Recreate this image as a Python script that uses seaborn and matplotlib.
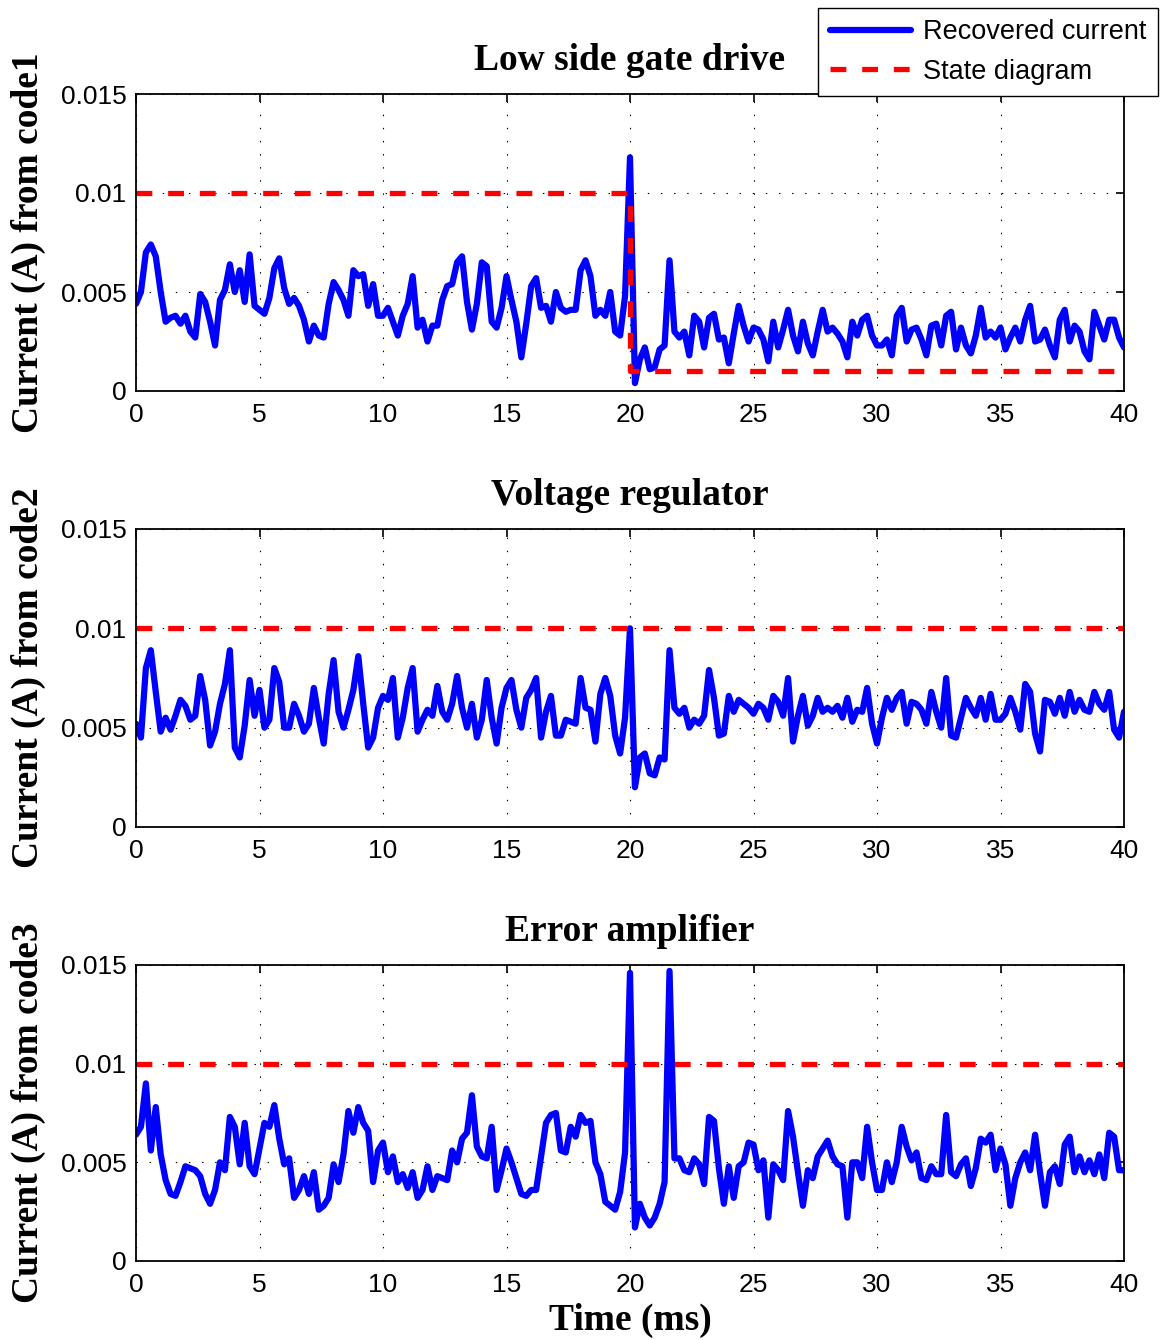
import numpy as np
import pandas as pd
import matplotlib
matplotlib.use("Agg")
import matplotlib.pyplot as plt
import seaborn as sns

# ---------------- data (in mA) ----------------
time_ms = np.round(np.arange(201) * 0.2, 1)

code1_mA = [
    4.4, 5.0, 7.0, 7.4, 6.8, 5.0, 3.5, 3.7, 3.8, 3.4,
    3.8, 3.0, 2.7, 4.9, 4.5, 3.5, 2.3, 4.6, 5.1, 6.4,
    5.0, 6.1, 4.5, 6.9, 4.3, 4.1, 3.9, 4.7, 6.2, 6.7,
    5.2, 4.4, 4.7, 4.3, 3.6, 2.5, 3.3, 2.8, 2.7, 4.4,
    5.5, 5.1, 4.6, 3.8, 6.1, 5.8, 5.9, 4.3, 5.4, 3.8,
    3.8, 4.2, 3.5, 2.8, 3.8, 4.4, 5.8, 3.2, 3.6, 2.5,
    3.3, 3.3, 4.6, 5.3, 5.4, 6.5, 6.8, 4.5, 3.1, 4.4,
    6.5, 6.3, 3.5, 3.2, 4.2, 5.8, 4.6, 3.5, 1.7, 3.4,
    5.3, 5.7, 4.2, 4.3, 3.5, 5.0, 4.2, 4.0, 4.1, 4.1,
    6.1, 6.6, 5.8, 3.8, 4.1, 3.8, 5.0, 3.0, 2.8, 4.8,
    11.8, 0.4, 1.6, 2.2, 1.1, 1.2, 2.1, 2.3, 6.6, 3.0,
    2.7, 3.0, 1.8, 3.8, 3.5, 2.2, 3.7, 3.9, 2.6, 2.7,
    1.4, 2.9, 4.3, 3.3, 2.5, 3.2, 3.1, 2.6, 1.5, 3.5,
    2.2, 3.1, 4.1, 2.8, 2.0, 3.5, 2.4, 1.8, 3.0, 4.1,
    3.0, 3.2, 2.9, 2.5, 1.7, 3.5, 2.8, 3.6, 3.8, 2.8,
    2.3, 2.3, 2.6, 1.8, 3.8, 4.2, 2.5, 3.1, 3.2, 2.6,
    1.8, 3.3, 3.4, 2.3, 3.8, 4.0, 2.1, 3.2, 2.3, 1.9,
    2.8, 4.2, 2.7, 3.0, 2.7, 3.2, 2.1, 2.7, 3.2, 2.5,
    3.6, 4.3, 2.5, 2.6, 3.1, 2.3, 1.7, 3.6, 4.1, 2.5,
    3.3, 3.0, 2.0, 1.6, 4.0, 3.3, 2.6, 3.6, 3.6, 2.7,
    2.2,
]

code2_mA = [
    5.2, 4.5, 8.0, 8.9, 6.8, 4.8, 5.5, 4.9, 5.6, 6.4,
    6.1, 5.4, 5.6, 7.6, 6.4, 4.1, 4.8, 6.2, 7.2, 8.9,
    4.0, 3.5, 5.1, 7.4, 5.6, 6.9, 5.0, 5.4, 8.0, 7.3,
    5.0, 5.0, 6.2, 5.6, 4.8, 5.2, 7.0, 5.5, 4.2, 6.7,
    8.4, 5.8, 5.0, 5.9, 6.9, 8.6, 6.2, 4.0, 4.5, 6.0,
    6.6, 6.4, 7.5, 4.5, 5.5, 7.0, 8.0, 4.8, 5.4, 5.9,
    5.6, 7.1, 5.8, 5.4, 6.2, 7.6, 6.0, 5.0, 6.2, 4.5,
    5.4, 7.4, 5.5, 4.2, 6.0, 7.0, 7.4, 5.9, 5.0, 6.5,
    6.9, 7.5, 4.5, 5.8, 6.6, 4.6, 4.6, 5.4, 5.3, 5.2,
    7.5, 6.0, 5.9, 4.3, 6.7, 7.5, 6.6, 4.6, 3.7, 5.5,
    10.0, 2.0, 3.5, 3.7, 2.7, 2.6, 3.5, 3.4, 8.9, 6.0,
    5.7, 6.0, 5.0, 5.4, 5.2, 5.6, 7.9, 6.5, 4.6, 4.7,
    6.6, 5.8, 6.4, 6.2, 6.0, 5.7, 6.2, 6.0, 5.4, 6.6,
    6.3, 5.6, 7.5, 4.3, 5.6, 6.6, 5.1, 5.6, 6.5, 5.8,
    6.0, 5.8, 6.1, 5.5, 6.5, 5.3, 5.9, 5.8, 7.0, 5.2,
    4.2, 5.5, 6.5, 5.9, 6.5, 6.8, 5.2, 6.3, 6.2, 5.9,
    5.2, 6.8, 5.8, 5.0, 7.5, 4.6, 4.5, 5.5, 6.5, 6.0,
    5.6, 6.5, 5.4, 6.7, 5.4, 5.4, 5.7, 6.5, 5.8, 4.9,
    7.2, 6.8, 4.7, 3.8, 6.4, 6.3, 5.7, 6.5, 5.6, 6.8,
    5.8, 6.4, 5.9, 5.8, 6.8, 6.2, 5.9, 6.8, 4.9, 4.5,
    5.8,
]

code3_mA = [
    6.4, 6.8, 9.0, 5.6, 7.8, 5.4, 4.1, 3.4, 3.3, 4.0,
    4.8, 4.7, 4.6, 4.3, 3.4, 2.9, 3.6, 5.0, 4.6, 7.3,
    6.8, 4.9, 7.0, 4.8, 4.4, 5.7, 7.0, 6.8, 7.9, 6.2,
    4.9, 5.2, 3.2, 3.6, 4.3, 3.4, 4.5, 2.6, 2.8, 3.2,
    4.9, 4.0, 5.4, 7.6, 6.5, 7.8, 7.0, 6.6, 4.0, 5.6,
    6.0, 4.5, 5.3, 4.0, 4.4, 3.7, 4.5, 3.2, 3.6, 4.8,
    3.6, 4.3, 4.2, 4.1, 5.6, 5.0, 6.2, 6.5, 8.4, 5.8,
    5.3, 5.2, 6.8, 3.6, 4.6, 5.7, 5.0, 4.2, 3.4, 3.3,
    3.6, 3.6, 5.3, 7.0, 7.4, 7.5, 5.6, 5.5, 6.8, 6.3,
    7.4, 7.0, 7.1, 5.0, 4.4, 3.0, 2.8, 2.6, 3.5, 5.5,
    14.6, 1.7, 2.9, 2.2, 1.8, 2.2, 2.9, 4.0, 14.7, 5.2,
    5.2, 4.6, 4.5, 5.2, 4.9, 3.9, 7.3, 7.1, 4.7, 2.9,
    4.8, 3.2, 4.8, 5.0, 6.0, 5.9, 4.6, 5.1, 2.2, 4.9,
    4.6, 4.1, 7.6, 6.3, 4.5, 2.8, 4.6, 4.2, 5.3, 5.7,
    6.1, 5.3, 4.9, 4.8, 2.2, 5.0, 5.0, 4.2, 6.8, 5.0,
    3.6, 3.6, 5.0, 4.0, 5.0, 6.8, 5.8, 5.1, 5.5, 4.2,
    4.1, 4.8, 4.4, 4.4, 7.4, 4.5, 4.3, 4.9, 5.2, 3.8,
    4.7, 6.2, 6.0, 6.4, 4.6, 5.7, 4.9, 2.8, 4.2, 5.0,
    5.5, 4.6, 6.4, 4.5, 2.8, 4.5, 4.8, 3.9, 5.9, 6.3,
    4.5, 5.3, 4.5, 5.1, 4.4, 5.4, 4.2, 6.5, 6.3, 4.6,
    4.6,
]

state1_t = [0, 20, 20, 40]
state1_mA = [10, 10, 1, 1]
state2_t = [0, 40]
state2_mA = [10, 10]
state3_t = [0, 40]
state3_mA = [10, 10]

titles = ["Low side gate drive", "Voltage regulator", "Error amplifier"]
ylabels = ["Current (A) from code1", "Current (A) from code2", "Current (A) from code3"]
xlabel = "Time (ms)"
legend_labels = ["Recovered current", "State diagram"]
xticks = [0, 5, 10, 15, 20, 25, 30, 35, 40]
yticks = [0, 0.005, 0.01, 0.015]
ytick_labels = ["0", "0.005", "0.01", "0.015"]

# ---------------- style ----------------
sns.set_theme(style="white")
plt.rcParams['font.family'] = ['Liberation Sans', 'DejaVu Sans']
plt.rcParams['text.color'] = 'black'
plt.rcParams['axes.labelcolor'] = 'black'
plt.rcParams['xtick.color'] = 'black'
plt.rcParams['ytick.color'] = 'black'
serif = ['Liberation Serif', 'DejaVu Serif']

W, H = 1163, 1340
fig = plt.figure(figsize=(W / 100, H / 100), dpi=100)
fig.patch.set_facecolor("white")

# axes boxes in pixels: (left, top, right, bottom)
boxes = [(136, 94, 1124, 391), (136, 529, 1124, 827), (136, 965, 1124, 1261)]

series = [code1_mA, code2_mA, code3_mA]
states = [(state1_t, state1_mA), (state2_t, state2_mA), (state3_t, state3_mA)]

handles = []
for i, (box, vals, (st, sv)) in enumerate(zip(boxes, series, states)):
    l, t, r, b = box
    ax = fig.add_axes([l / W, 1 - b / H, (r - l) / W, (b - t) / H])
    df = pd.DataFrame({"t": time_ms, "I": np.asarray(vals) * 1e-3})
    sdf = pd.DataFrame({"t": st, "I": np.asarray(sv) * 1e-3})
    sns.lineplot(data=df, x="t", y="I", ax=ax, color="#0000FF", linewidth=4.5,
                 estimator=None, sort=False, legend=False,
                 solid_joinstyle="round", solid_capstyle="round")
    hb = ax.get_lines()[-1]
    sns.lineplot(data=sdf, x="t", y="I", ax=ax, color="#FF0000", linewidth=3.8,
                 linestyle=(0, (3, 3)), estimator=None, sort=False, legend=False)
    hr = ax.get_lines()[-1]
    if i == 0:
        handles = [hb, hr]

    ax.set_xlim(0, 40)
    ax.set_ylim(0, 0.015)
    ax.set_xticks(xticks)
    ax.set_xticklabels([str(x) for x in xticks])
    ax.set_yticks(yticks)
    ax.set_yticklabels(ytick_labels)
    ax.tick_params(direction="in", length=6, width=1.2, top=True, right=True,
                   labelsize=19, colors="black", pad=7)
    ax.tick_params(axis="x", pad=9)
    for sp in ax.spines.values():
        sp.set_visible(True)
        sp.set_color("black")
        sp.set_linewidth(1.3)
    ax.grid(True, color="black", linewidth=0.8, linestyle=(0, (1.3, 10.5)))
    ax.set_title(titles[i], fontsize=27, fontweight="bold", family=serif,
                 pad=17, color="black")
    ax.set_ylabel(ylabels[i], fontsize=27, fontweight="bold", family=serif,
                  color="black")
    ax.yaxis.set_label_coords(-0.091, 0.5)
    if i == 2:
        ax.set_xlabel(xlabel, fontsize=27, fontweight="bold", family=serif,
                      color="black")
        ax.xaxis.set_label_coords(0.5, -0.142)
    else:
        ax.set_xlabel("")

leg = fig.legend(handles, legend_labels, loc="upper right",
                 bbox_to_anchor=(1158 / W, 1 - 8 / H), fontsize=19.5,
                 frameon=True, fancybox=False, edgecolor="black", framealpha=1,
                 borderaxespad=0, handlelength=3.0, handletextpad=0.45,
                 borderpad=0.42, labelspacing=0.5)
leg.get_frame().set_linewidth(1.0)
for txt in leg.get_texts():
    txt.set_color("black")

fig.savefig("out.png", dpi=100, facecolor="white")
